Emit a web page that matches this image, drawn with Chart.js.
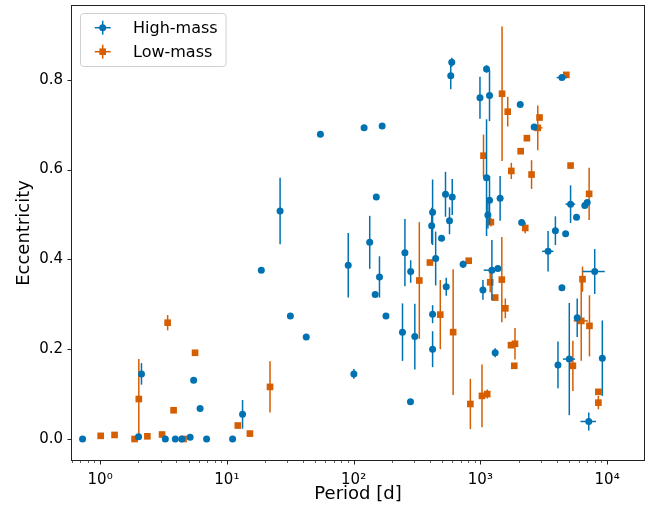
<!DOCTYPE html>
<html><head><meta charset="utf-8">
<script src="https://cdn.jsdelivr.net/npm/chart.js@4.4.1/dist/chart.umd.min.js"></script>
<style>html,body{margin:0;padding:0;background:#fff;} #wrap{width:659px;height:508px;}</style>
</head><body><div id="wrap"><canvas id="c" width="659" height="508"></canvas></div>
<script>
// ---- data ----
const seriesNames = ['High-mass', 'Low-mass'];
const seriesColors = ['#0072B2', '#D55E00'];

const highPeriod = [0.727, 2.01, 2.12, 3.27, 3.92, 4.41, 5.13, 5.47, 6.15, 6.92, 11.1, 13.3, 18.7, 26.3, 31.7, 42.3, 54.7, 90.7, 100.5, 121, 134, 148, 151, 160, 168, 180, 243, 254, 281, 282, 304, 413, 420, 420, 420, 444, 494, 531, 538, 571, 584, 595, 600, 731, 993, 1048, 1119, 1119, 1147, 1181, 1181, 1233, 1309, 1374, 1432, 2064, 2118, 2657, 3422, 3909, 4096, 4402, 4402, 4707, 5032, 5150, 5740, 5810, 6670, 6966, 7166, 7986, 9170];
const highEcc = [0.000, 0.005, 0.145, 0.000, 0.000, 0.000, 0.004, 0.131, 0.068, 0.000, 0.000, 0.055, 0.376, 0.508, 0.274, 0.227, 0.679, 0.387, 0.145, 0.693, 0.438, 0.322, 0.539, 0.361, 0.697, 0.274, 0.238, 0.415, 0.083, 0.373, 0.228, 0.475, 0.505, 0.278, 0.200, 0.402, 0.447, 0.545, 0.339, 0.486, 0.809, 0.839, 0.539, 0.389, 0.760, 0.332, 0.824, 0.582, 0.499, 0.765, 0.532, 0.376, 0.192, 0.380, 0.536, 0.745, 0.482, 0.695, 0.418, 0.464, 0.165, 0.805, 0.337, 0.457, 0.178, 0.523, 0.494, 0.270, 0.520, 0.527, 0.039, 0.373, 0.180];
const highEccErr = [0, 0, 0.024, 0, 0, 0, 0, 0, 0, 0, 0, 0.032, 0, 0.074, 0, 0, 0, 0.072, 0.011, 0, 0.059, 0, 0, 0.046, 0, 0, 0.064, 0.075, 0, 0.025, 0.073, 0.04, 0.073, 0.02, 0.04, 0.06, 0, 0.05, 0.02, 0.03, 0.03, 0.01, 0.04, 0.008, 0.047, 0.022, 0.008, 0.13, 0.03, 0.057, 0.054, 0.067, 0.01, 0, 0.05, 0, 0, 0, 0.045, 0.032, 0.052, 0, 0, 0, 0.125, 0.042, 0, 0.043, 0, 0, 0.02, 0.05, 0.084];
const highPeriodErr = [0, 0, 0, 0, 0, 0, 0, 0, 0, 0, 0, 0, 0, 0, 0, 0, 0, 0, 0, 0, 0, 0, 0, 0, 0, 0, 0, 0, 0, 0, 0, 0, 0, 0, 0, 0, 0, 0, 0, 0, 0, 0, 0, 0, 0, 0, 0, 0, 0, 0, 0, 170, 0, 0, 0, 0, 0, 0, 350, 0, 0, 400, 0, 0, 550, 450, 0, 0, 0, 0, 1000, 1600, 0];

const lowPeriod = [1.01, 1.30, 1.87, 2.02, 2.36, 3.08, 3.41, 3.80, 4.55, 5.61, 12.2, 15.2, 21.9, 330, 400, 483, 610, 809, 834, 1030, 1059, 1133, 1196, 1211, 1309, 1483, 1477, 1574, 1644, 1745, 1755, 1852, 1876, 2080, 2260, 2330, 2535, 2838, 2930, 4768, 5150, 5370, 6250, 6397, 7258, 7216, 8535, 8535];
const lowEcc = [0.007, 0.009, 0.000, 0.089, 0.006, 0.010, 0.259, 0.064, 0.000, 0.192, 0.030, 0.012, 0.116, 0.353, 0.393, 0.277, 0.238, 0.397, 0.078, 0.096, 0.631, 0.100, 0.349, 0.483, 0.315, 0.769, 0.355, 0.291, 0.729, 0.209, 0.597, 0.163, 0.212, 0.641, 0.470, 0.670, 0.589, 0.693, 0.716, 0.811, 0.609, 0.163, 0.263, 0.356, 0.252, 0.546, 0.105, 0.081];
const lowEccErr = [0, 0.005, 0, 0.089, 0, 0.005, 0.017, 0, 0, 0, 0, 0, 0.057, 0.13, 0, 0.077, 0.14, 0, 0.056, 0.07, 0.047, 0.01, 0.022, 0.01, 0, 0.15, 0.095, 0.022, 0.033, 0, 0.018, 0, 0.035, 0, 0.012, 0, 0.032, 0.05, 0, 0, 0, 0.056, 0.089, 0.028, 0.068, 0.058, 0, 0.015];
const lowPeriodErr = [0, 0, 0, 0, 0, 0, 0, 0, 0, 0, 0, 0, 0, 0, 0, 0, 0, 0, 0, 0, 0, 0, 0, 0, 0, 0, 0, 0, 0, 0, 0, 0, 0, 0, 0, 0, 0, 250, 0, 0, 0, 250, 800, 0, 0, 0, 0, 0];

const xMajorTicks = [1, 10, 100, 1000, 10000];
const xTickLabels = ['10\u2070', '10\u00b9', '10\u00b2', '10\u00b3', '10\u2074'];
const yTicks = [0, 0.2, 0.4, 0.6, 0.8];
const xLabel = 'Period [d]';
const yLabel = 'Eccentricity';

// ---- build ----
function pts(P, E, EE, PE) {
  return P.map((p, i) => ({ x: p, y: E[i], ey: EE[i], ex: PE[i] }));
}
const FONT = "'DejaVu Sans', 'Liberation Sans', sans-serif";
Chart.defaults.font.family = FONT;
Chart.defaults.color = '#000';

const errPlugin = {
  id: 'errbars',
  beforeDatasetDraw(chart, args) {
    const ds = chart.data.datasets[args.index];
    const xs = chart.scales.x, ys = chart.scales.y, ctx = chart.ctx, a = chart.chartArea;
    ctx.save();
    ctx.beginPath(); ctx.rect(a.left, a.top, a.right - a.left, a.bottom - a.top); ctx.clip();
    ctx.strokeStyle = ds.borderColor; ctx.lineWidth = 1.5; ctx.lineCap = 'butt';
    ds.data.forEach(d => {
      const px = xs.getPixelForValue(d.x), py = ys.getPixelForValue(d.y);
      if (d.ey > 0) {
        ctx.beginPath();
        ctx.moveTo(px, ys.getPixelForValue(d.y - d.ey));
        ctx.lineTo(px, ys.getPixelForValue(d.y + d.ey));
        ctx.stroke();
      }
      if (d.ex > 0) {
        ctx.beginPath();
        ctx.moveTo(xs.getPixelForValue(Math.max(d.x - d.ex, 1e-3)), py);
        ctx.lineTo(xs.getPixelForValue(d.x + d.ex), py);
        ctx.stroke();
      }
    });
    ctx.restore();
  }
};

const framePlugin = {
  id: 'frame',
  afterDraw(chart) {
    const ctx = chart.ctx, a = chart.chartArea, xs = chart.scales.x, ys = chart.scales.y;
    ctx.save();
    ctx.strokeStyle = '#222'; ctx.lineWidth = 1;
    ctx.strokeRect(a.left - 0.5, a.top - 0.5, a.right - a.left + 1, a.bottom - a.top + 1);
    const b = a.bottom + 0.5;
    xMajorTicks.forEach(v => {
      const px = Math.round(xs.getPixelForValue(v)) + 0.5;
      ctx.beginPath(); ctx.moveTo(px, b); ctx.lineTo(px, b + 4); ctx.stroke();
    });
    ctx.lineWidth = 0.7;
    for (let e = -1; e <= 4; e++) {
      for (let m = 2; m <= 9; m++) {
        const v = m * Math.pow(10, e);
        if (v < xs.min || v > xs.max) continue;
        const px = Math.round(xs.getPixelForValue(v)) + 0.5;
        ctx.beginPath(); ctx.moveTo(px, b); ctx.lineTo(px, b + 2.5); ctx.stroke();
      }
    }
    ctx.lineWidth = 1;
    yTicks.forEach(v => {
      const py = Math.round(ys.getPixelForValue(v)) + 0.5;
      ctx.beginPath(); ctx.moveTo(a.left - 0.5, py); ctx.lineTo(a.left - 4.5, py); ctx.stroke();
    });
    ctx.restore();
  }
};

const legendPlugin = {
  id: 'mplLegend',
  afterDraw(chart) {
    const ctx = chart.ctx;
    ctx.save();
    const bx = 80.5, by = 13.5, bw = 145.5, bh = 53, r = 3;
    ctx.beginPath();
    ctx.moveTo(bx + r, by); ctx.lineTo(bx + bw - r, by); ctx.arcTo(bx + bw, by, bx + bw, by + r, r);
    ctx.lineTo(bx + bw, by + bh - r); ctx.arcTo(bx + bw, by + bh, bx + bw - r, by + bh, r);
    ctx.lineTo(bx + r, by + bh); ctx.arcTo(bx, by + bh, bx, by + bh - r, r);
    ctx.lineTo(bx, by + r); ctx.arcTo(bx, by, bx + r, by, r); ctx.closePath();
    ctx.fillStyle = 'rgba(255,255,255,0.8)'; ctx.fill();
    ctx.strokeStyle = '#d0d0d0'; ctx.lineWidth = 1; ctx.stroke();
    seriesNames.forEach((name, i) => {
      const cx = 102.7, cy = 27.7 + i * 24;
      ctx.strokeStyle = seriesColors[i]; ctx.lineWidth = 1.5;
      ctx.beginPath(); ctx.moveTo(cx - 8, cy); ctx.lineTo(cx + 8, cy); ctx.stroke();
      ctx.beginPath(); ctx.moveTo(cx, cy - 7); ctx.lineTo(cx, cy + 7); ctx.stroke();
      ctx.fillStyle = seriesColors[i];
      if (i === 0) { ctx.beginPath(); ctx.arc(cx, cy, 3.5, 0, Math.PI * 2); ctx.fill(); }
      else { ctx.fillRect(cx - 3.3, cy - 3.3, 6.6, 6.6); }
      ctx.fillStyle = '#000'; ctx.font = '16px ' + FONT; ctx.textBaseline = 'middle'; ctx.textAlign = 'left';
      ctx.fillText(name, 133, cy + 1);
    });
    ctx.restore();
  }
};

new Chart(document.getElementById('c'), {
  type: 'scatter',
  data: {
    datasets: [
      { label: seriesNames[0], data: pts(highPeriod, highEcc, highEccErr, highPeriodErr),
        backgroundColor: seriesColors[0], borderColor: seriesColors[0], borderWidth: 0,
        pointStyle: 'circle', pointRadius: 3.5 },
      { label: seriesNames[1], data: pts(lowPeriod, lowEcc, lowEccErr, lowPeriodErr),
        backgroundColor: seriesColors[1], borderColor: seriesColors[1], borderWidth: 0,
        pointStyle: 'rect', pointRadius: 4.7 }
    ]
  },
  options: {
    responsive: false, animation: false, devicePixelRatio: 1, events: [],
    layout: { padding: { top: 6, right: 15, bottom: 0, left: 0 } },
    plugins: { legend: { display: false }, tooltip: { enabled: false } },
    scales: {
      x: {
        type: 'logarithmic', min: 0.649, max: 19550,
        afterBuildTicks: s => { s.ticks = xMajorTicks.map(v => ({ value: v })); },
        afterFit: s => { s.height = 48; s.paddingLeft = 0; s.paddingRight = 0; s.paddingTop = 0; s.paddingBottom = 0; },
        grid: { display: true, drawOnChartArea: false, drawTicks: true, tickLength: 4, tickColor: 'rgba(0,0,0,0)' },
        border: { display: false },
        ticks: { autoSkip: false, maxRotation: 0, padding: 7, font: { size: 15 }, color: '#000',
          callback: (v) => { const i = xMajorTicks.indexOf(v); return i >= 0 ? xTickLabels[i] : ''; } },
        title: { display: true, text: xLabel, font: { size: 18 }, color: '#000', padding: { top: 0, bottom: 3 } }
      },
      y: {
        min: -0.0468, max: 0.9644,
        afterBuildTicks: s => { s.ticks = yTicks.map(v => ({ value: v })); },
        afterFit: s => { s.width = 72; s.paddingTop = 0; s.paddingBottom = 0; s.paddingLeft = 0; s.paddingRight = 0; },
        grid: { display: true, drawOnChartArea: false, drawTicks: true, tickLength: 4, tickColor: 'rgba(0,0,0,0)' },
        border: { display: false },
        ticks: { padding: 5, font: { size: 15 }, color: '#000', callback: v => Number(v).toFixed(1) },
        title: { display: true, text: yLabel, font: { size: 18 }, color: '#000', padding: { top: 14, bottom: 0 } }
      }
    }
  },
  plugins: [errPlugin, framePlugin, legendPlugin]
});
</script></body></html>
